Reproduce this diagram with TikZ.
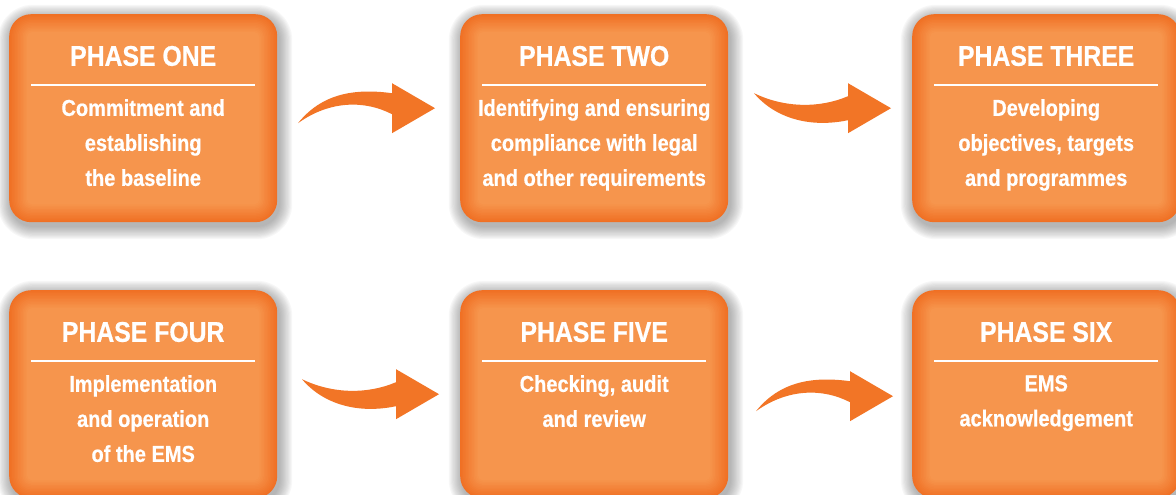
\documentclass[tikz,border=0pt]{standalone}
\usepackage{fontspec}
\newfontfamily\condfont{Liberation Sans}[FakeStretch=0.87,FakeBold=0.6]
\usetikzlibrary{calc}
\definecolor{edgeC}{HTML}{F07024}
\definecolor{glowC}{HTML}{F6954D}
\definecolor{arrowC}{HTML}{F27526}
\definecolor{shadowC}{HTML}{5A5A5A}
\tikzset{
  phase/.style={minimum width=268pt, minimum height=208pt, rounded corners=22pt,
    fill=edgeC, inner sep=0pt, anchor=north west},
  ptitle/.style={text=white, inner sep=0pt, anchor=center,
    font=\condfont\bfseries\fontsize{28.5}{30}\selectfont},
  pbody/.style={text=white, inner sep=0pt, anchor=north, align=center,
    font=\condfont\bfseries\fontsize{23}{35}\selectfont},
  prule/.style={draw=white, line width=2pt},
  bigarrow/.style={fill=arrowC},
  softshadow/.style={fill=shadowC, fill opacity=0.045},
}
\newcommand{\phasebox}[5]{%
  \coordinate (#1nw) at (#2,#3);
  \coordinate (#1se) at ($(#2,#3)+(268,208)$);
  \foreach \j in {1,...,12}{%
    \pgfmathsetmacro{\e}{\j*1.1}%
    \pgfmathsetmacro{\rr}{22+\e}%
    \fill[softshadow, rounded corners=\rr pt]
      ($(#1nw)+(2-\e,4-\e)$) rectangle ($(#1se)+(2+\e,4+\e)$);
  }
  \node[phase] (#1) at (#1nw) {};
  \foreach \i in {1,...,12}{%
    \pgfmathsetmacro{\d}{\i*1.5}%
    \pgfmathsetmacro{\r}{max(22-\i*1.4,3)}%
    \pgfmathtruncatemacro{\m}{100*\i/12}%
    \fill[glowC!\m!edgeC, rounded corners=\r pt]
      ($(#1.north west)+(\d,\d)$) rectangle ($(#1.south east)+(-\d,-\d)$);
  }
  \node[ptitle] (#1t) at ($(#1.north)+(0,42)$) {#4};
  \draw[prule] ($(#1.north west)+(22,71)$) -- ($(#1.north east)+(-22,71)$);
  \node[pbody] (#1b) at ($(#1.north)+(0,85)$) {#5};
}
\newcommand{\upcurve}[1]{%
  \begin{scope}[shift={(#1)}]
    \fill[bigarrow] (-137,15) .. controls (-113,-15) and (-80,-20) .. (-43,-15)
      -- (-43,-25) -- (0,0) -- (-43,25) -- (-43,6)
      .. controls (-70,-8) and (-105,-8) .. (-137,15) -- cycle;
  \end{scope}}
\newcommand{\downcurve}[1]{%
  \begin{scope}[shift={(#1)}]
    \fill[bigarrow] (-137,-15) .. controls (-106,0) and (-71,0) .. (-43,-12)
      -- (-43,-25) -- (0,0) -- (-43,25) -- (-43,12)
      .. controls (-81,20) and (-116,10) .. (-137,-15) -- cycle;
  \end{scope}}
\begin{document}
\begin{tikzpicture}[x=1pt,y=-1pt]
  \fill[white] (0,0) rectangle (1176,495);
  \useasboundingbox (0,0) rectangle (1176,495);
  \phasebox{p1}{9}{14}{PHASE ONE}{Commitment and\\establishing\\the baseline}
  \phasebox{p2}{460}{14}{PHASE TWO}{Identifying and ensuring\\compliance with legal\\and other requirements}
  \phasebox{p3}{912}{14}{PHASE THREE}{Developing\\objectives, targets\\and programmes}
  \phasebox{p4}{9}{290}{PHASE FOUR}{Implementation\\and operation\\of the EMS}
  \phasebox{p5}{460}{290}{PHASE FIVE}{Checking, audit\\and review}
  \phasebox{p6}{912}{290}{PHASE SIX}{EMS\\acknowledgement}
  \coordinate (a1) at ($(p2.west)+(-25,-10)$);
  \coordinate (a2) at ($(p3.west)+(-21,-10)$);
  \coordinate (a3) at ($(p5.west)+(-21,0)$);
  \coordinate (a4) at ($(p6.west)+(-19,2)$);
  \upcurve{a1}
  \downcurve{a2}
  \downcurve{a3}
  \upcurve{a4}
\end{tikzpicture}
\end{document}
